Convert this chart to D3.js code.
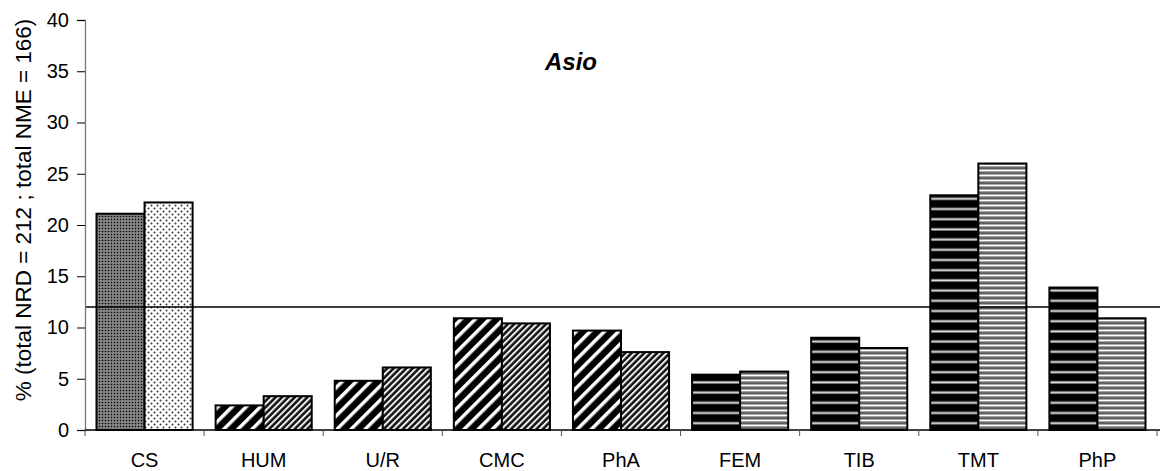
<!DOCTYPE html>
<html><head><meta charset="utf-8">
<script src="https://cdn.jsdelivr.net/npm/d3@7"></script>
<style>body{margin:0;background:#fff}svg{display:block}</style>
</head><body>
<svg id="c" width="1160" height="471"></svg>
<script>
const categories = ["CS","HUM","U/R","CMC","PhA","FEM","TIB","TMT","PhP"];
const nrdValues = [21.1, 2.4, 4.8, 10.9, 9.7, 5.4, 9.0, 22.9, 13.9];
const nmeValues = [22.2, 3.3, 6.1, 10.4, 7.6, 5.7, 8.0, 26.0, 10.9];
const yTicks = [0,5,10,15,20,25,30,35,40];
const refLine = 12;
const title = "Asio";
const yLabel = "% (total NRD = 212 ; total NME = 166)";

const FONT = "'Liberation Sans',Arial,sans-serif";
const svg = d3.select("#c");
const m = {l:85, r:3, t:20, b:41};
const W = 1160, H = 471;
const x = d3.scaleBand().domain(categories).range([m.l, 1157]).paddingInner(0).paddingOuter(0);
const y = d3.scaleLinear().domain([0,40]).range([H-m.b, m.t]);

const defs = svg.append("defs");
function pat(id, w, h, draw, bg){
  const p = defs.append("pattern").attr("id",id).attr("patternUnits","userSpaceOnUse").attr("width",w).attr("height",h);
  p.append("rect").attr("width",w).attr("height",h).attr("fill",bg);
  draw(p);
}
pat("darkDots",3,3,p=>{
  p.append("rect").attr("x",0).attr("y",0).attr("width",1).attr("height",1).attr("fill","#000");
  p.append("rect").attr("x",1.5).attr("y",1.5).attr("width",1).attr("height",1).attr("fill","#ccc");
},"#6e6e6e");
pat("sparseDots",6,6,p=>{
  p.append("circle").attr("cx",1.5).attr("cy",1.5).attr("r",1).attr("fill","#333");
  p.append("circle").attr("cx",4.5).attr("cy",4.5).attr("r",1).attr("fill","#333");
},"#fff");
(function(){
  const p = defs.append("pattern").attr("id","wideDiag").attr("patternUnits","userSpaceOnUse")
    .attr("width",10).attr("height",10).attr("patternTransform","rotate(45)");
  p.append("rect").attr("width",10).attr("height",10).attr("fill","#000");
  p.append("rect").attr("x",0).attr("width",3.5).attr("height",10).attr("fill","#fff");
  const q = defs.append("pattern").attr("id","fineDiag").attr("patternUnits","userSpaceOnUse")
    .attr("width",4.5).attr("height",4.5).attr("patternTransform","rotate(45)");
  q.append("rect").attr("width",4.5).attr("height",4.5).attr("fill","#111");
  q.append("rect").attr("x",0).attr("width",2).attr("height",4.5).attr("fill","#eee");
})();
pat("wideHoriz",10,10.2,p=>{
  p.append("rect").attr("x",0).attr("y",4).attr("width",10).attr("height",2).attr("fill","#ddd");
  p.append("rect").attr("x",0).attr("y",3.5).attr("width",10).attr("height",0.5).attr("fill","#888");
  p.append("rect").attr("x",0).attr("y",6).attr("width",10).attr("height",0.5).attr("fill","#888");
},"#000");
pat("fineHoriz",10,5,p=>{
  p.append("rect").attr("x",0).attr("y",0).attr("width",10).attr("height",1.2).attr("fill","#fff");
  p.append("rect").attr("x",0).attr("y",1.2).attr("width",10).attr("height",1.3).attr("fill","#999");
  p.append("rect").attr("x",0).attr("y",2.5).attr("width",10).attr("height",1.3).attr("fill","#333");
  p.append("rect").attr("x",0).attr("y",3.8).attr("width",10).attr("height",1.2).attr("fill","#aaa");
},"#aaa");

function patFor(i, s){
  if(i===0) return s===0 ? "darkDots" : "sparseDots";
  if(i<=4) return s===0 ? "wideDiag" : "fineDiag";
  return s===0 ? "wideHoriz" : "fineHoriz";
}

const pad = 11.5;
const bw = (x.bandwidth() - 2*pad)/2;
const g = svg.append("g");
[nrdValues, nmeValues].forEach((vals, s)=>{
  g.selectAll(".b"+s).data(categories).enter().append("rect")
    .attr("x", d=>x(d)+pad+s*bw)
    .attr("y", (d,i)=>y(vals[i]))
    .attr("width", bw)
    .attr("height", (d,i)=>y(0)-y(vals[i]))
    .attr("fill", (d,i)=>"url(#"+patFor(i,s)+")")
    .attr("stroke","#000").attr("stroke-width",2);
});

svg.append("line").attr("x1",m.l).attr("x2",W).attr("y1",y(refLine)).attr("y2",y(refLine))
  .attr("stroke","#000").attr("stroke-width",1.3);

const ya = svg.append("g").attr("transform",`translate(${m.l},0)`)
  .call(d3.axisLeft(y).tickValues(yTicks).tickSize(8).tickPadding(8));
ya.select(".domain").attr("stroke","#777").attr("stroke-width",1.3);
ya.selectAll(".tick line").attr("stroke","#000");
ya.selectAll("text").attr("font-family",FONT).attr("font-size",20).attr("fill","#000");

const xa = svg.append("g").attr("transform",`translate(0,${y(0)})`);
xa.append("line").attr("x1",m.l).attr("x2",W).attr("stroke","#000").attr("stroke-width",1.3);
const bounds = categories.map(d=>x(d)).concat([x(categories[categories.length-1])+x.bandwidth()]);
xa.selectAll(".t").data(bounds).enter().append("line")
  .attr("x1",d=>d).attr("x2",d=>d)
  .attr("y1",0).attr("y2",6).attr("stroke","#555").attr("stroke-width",1);
xa.selectAll(".lbl").data(categories).enter().append("text")
  .attr("x",d=>x(d)+x.bandwidth()/2).attr("y",37).attr("text-anchor","middle")
  .attr("font-family",FONT).attr("font-size",20).text(d=>d);

svg.append("text").attr("transform",`translate(31,210) rotate(-90)`)
  .attr("text-anchor","middle").attr("font-family",FONT).attr("font-size",22.5)
  .text(yLabel);

svg.append("text").attr("x",571).attr("y",70).attr("text-anchor","middle")
  .attr("font-family",FONT).attr("font-size",24)
  .attr("font-weight","bold").attr("font-style","italic").text(title);
</script>
</body></html>
